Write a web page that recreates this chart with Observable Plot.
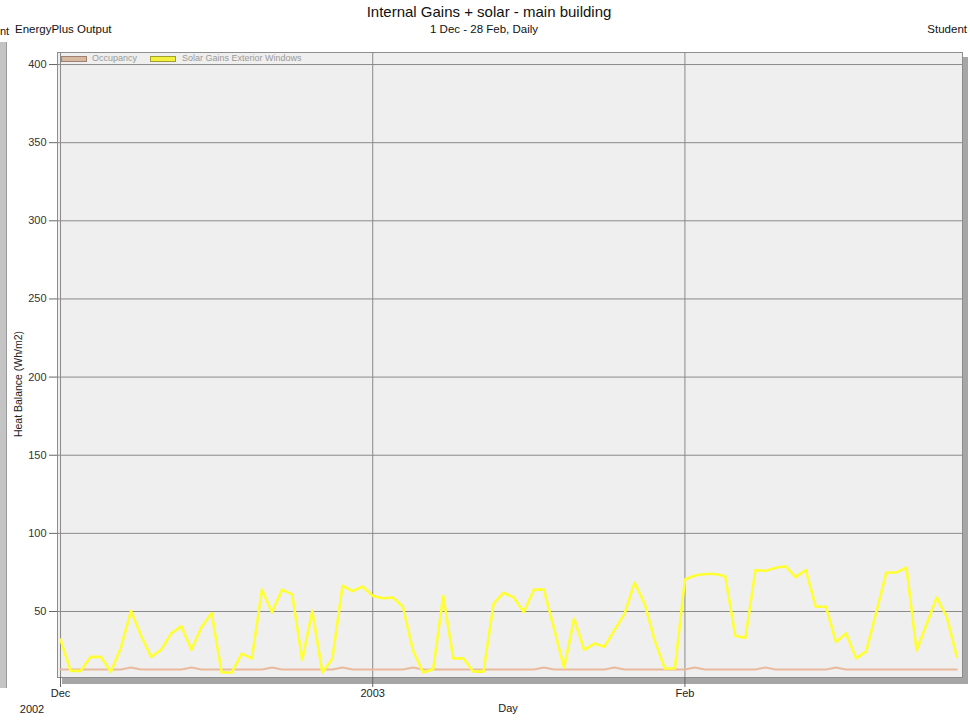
<!DOCTYPE html>
<html><head><meta charset="utf-8">
<script src="https://cdn.jsdelivr.net/npm/d3@7"></script>
<script src="https://cdn.jsdelivr.net/npm/@observablehq/plot@0.6"></script>
<style>
body{margin:0;background:#fff;font-family:"Liberation Sans",Arial,sans-serif;}
#wrap{position:relative;width:970px;height:721px;overflow:hidden;background:#fff;}
.t{position:absolute;white-space:nowrap;color:#111;line-height:1;}
.sw{position:absolute;height:4px;width:24px;}
</style></head><body>
<div id="wrap">
  <div style="position:absolute;left:0;top:42px;width:6px;height:646px;background:#c4c4c4;border-right:1px solid #9a9a9a"></div>
  <div style="position:absolute;left:62px;top:57px;width:906px;height:627px;background:#a6a6a6"></div>
  <div id="chart" style="position:absolute;left:0;top:0"></div>
  <div class="t" id="title" style="left:489px;top:4px;transform:translateX(-50%);font-size:15px">Internal Gains + solar - main building</div>
  <div class="t" id="sub" style="left:484px;top:24px;transform:translateX(-50%);font-size:11.5px">1 Dec - 28 Feb, Daily</div>
  <div class="t" style="left:15px;top:24px;font-size:11.5px">EnergyPlus Output</div>
  <div class="t" style="right:3px;top:24px;font-size:11.5px">Student</div>
  <div class="t" style="left:0px;top:26px;font-size:11px">nt</div>
  <div class="t" style="left:18px;top:384px;transform:translate(-50%,-50%) rotate(-90deg);font-size:10.5px;color:#222">Heat Balance (Wh/m2)</div>
  <div class="t" style="left:508px;top:703px;transform:translateX(-50%);font-size:11px;color:#222">Day</div>
  <div class="t" style="left:32px;top:704px;transform:translateX(-50%);font-size:11px;color:#222">2002</div>
  <div class="sw" style="left:61px;top:56px;background:#d7b8a0;border:1px solid #a08070"></div>
  <div class="t" style="left:92px;top:54px;font-size:9px;color:#9a9a9a">Occupancy</div>
  <div class="sw" style="left:150px;top:56px;background:#f4f040;border:1px solid #a0a030"></div>
  <div class="t" style="left:182px;top:54px;font-size:9px;color:#9a9a9a">Solar Gains Exterior Windows</div>
</div>
<script>
const startDay = "2002-12-01";
const endDay = "2003-03-01";
const solarGains = [32,12,12,21,21,11.5,27,50.5,34.5,21,25.5,36,40.5,25.5,40,49,11,11,23,20,
  64,49.5,64,61,19,50.5,11,20,66.5,63,66,60,58.5,59,53,25,11,13,60,20,
  20,11.5,11.5,55,62,59,49.5,64,64,39,14,45.5,25.5,29.5,27.5,38,48.5,68.5,55,31.5,
  13.5,13.5,70.5,73,74,74,72.5,34.5,33,76.5,76,78,79,72,76.5,53,53,30.5,36,20,
  24.5,49.5,75,75,78,25,42,59,46.5,21];
const occupancy = [12.9,12.9,12.9,12.9,12.9,12.9,12.9,14.2,12.9,12.9,12.9,12.9,12.9,14.2,12.9,12.9,12.9,12.9,12.9,12.9,
  12.9,14.2,12.9,12.9,12.9,12.9,12.9,12.9,14.2,12.9,12.9,12.9,12.9,12.9,12.9,14.2,12.9,12.9,12.9,12.9,
  12.9,12.9,12.9,12.9,12.9,12.9,12.9,12.9,14.2,12.9,12.9,12.9,12.9,12.9,12.9,14.2,12.9,12.9,12.9,12.9,
  12.9,12.9,12.9,14.2,12.9,12.9,12.9,12.9,12.9,12.9,14.2,12.9,12.9,12.9,12.9,12.9,12.9,14.2,12.9,12.9,
  12.9,12.9,12.9,12.9,12.9,12.9,12.9,12.9,12.9,12.9];
const yTicks = [50,100,150,200,250,300,350,400];
const xTickDates = ["2002-12-01","2003-01-01","2003-02-01"];
const xTickLabels = ["Dec","2003","Feb"];

const days = d3.utcDay.range(new Date(startDay), new Date(endDay));
const table = days.map((d, i) => ({date: d, solar: solarGains[i], occ: occupancy[i]}));
const xTicks = xTickDates.map(s => new Date(s));
const labelOf = new Map(xTicks.map((d, i) => [+d, xTickLabels[i]]));
const DAY = 864e5;
const t0 = +new Date(startDay);

const chart = Plot.plot({
  width: 970, height: 721,
  marginLeft: 57, marginRight: 8, marginTop: 52, marginBottom: 44,
  style: {background: "transparent", fontFamily: "Liberation Sans, Arial, sans-serif", fontSize: "11px", color: "#222"},
  x: {type: "utc", domain: [new Date(t0 - 0.3 * DAY), new Date(t0 + 89.56 * DAY)]},
  y: {domain: [7.77, 407.7]},
  marks: [
    Plot.frame({fill: "#eeefee", stroke: "#8e8e8e"}),
    Plot.gridY(yTicks, {stroke: "#8a8a8a", strokeOpacity: 1}),
    Plot.gridX(xTicks, {stroke: "#8a8a8a", strokeOpacity: 1}),
    Plot.line(table, {x: "date", y: "occ", stroke: "#e9bb9e", strokeWidth: 2}),
    Plot.line(table, {x: "date", y: "solar", stroke: "#ffff33", strokeWidth: 2.6}),
    Plot.axisY(yTicks, {tickSize: 8, tickPadding: 3, label: null, stroke: "#666", fill: "#333"}),
    Plot.axisX(xTicks, {tickSize: 10, tickPadding: 2, label: null, stroke: "#666", fill: "#222", tickFormat: d => labelOf.get(+d)})
  ]
});
document.getElementById("chart").appendChild(chart);
</script>
</body></html>
